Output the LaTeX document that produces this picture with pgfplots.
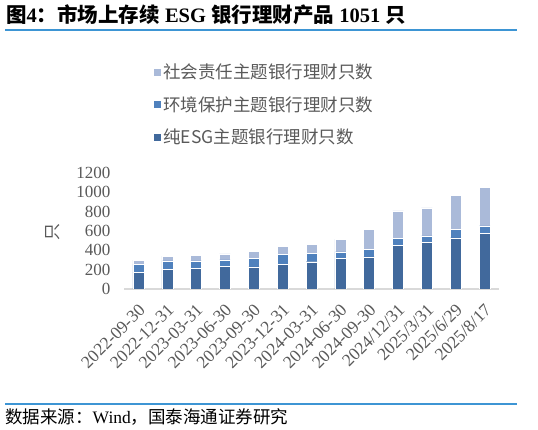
\documentclass[border=0pt]{standalone}
\usepackage{pgfplots}
\pgfplotsset{compat=1.18}
\usepackage{fontspec}
\setmainfont{Liberation Serif}
\newfontfamily\cjk{Noto Sans CJK SC}
\definecolor{c1}{HTML}{41699C}
\definecolor{c2}{HTML}{4F81BD}
\definecolor{c3}{HTML}{AABAD9}
\definecolor{tline}{HTML}{3D95D4}
\definecolor{tgray}{HTML}{595959}
\definecolor{lgray}{HTML}{D9D9D9}
\begin{document}
\begin{tikzpicture}[x=1pt,y=1pt]
\path[use as bounding box] (0,0) rectangle (538,430);
\node[anchor=west, inner sep=0pt, font=\fontsize{20.5}{23}\selectfont\bfseries] at (6,415) {{\cjk 图}4{\cjk ：市场上存续} ESG {\cjk 银行理财产品} 1051 {\cjk 只}};
\draw[tline, line width=1.5pt] (5,400) -- (517,400);
\draw[tline, line width=1.5pt] (5,26) -- (517,26);
\node[anchor=west, inner sep=0pt, font=\fontsize{17.5}{20}\selectfont] at (5,13) {{\cjk 数据来源：}Wind{\cjk ，国泰海通证券研究}};
\node[rotate=90, font=\cjk\fontsize{17}{20}\selectfont, text=tgray] at (53,198) {只};
\begin{axis}[
  at={(124pt,141pt)}, anchor=south west,
  scale only axis, width=375pt, height=116pt,
  ybar stacked, bar width=11pt,
  xmin=-0.5, xmax=12.5, ymin=0, ymax=1200,
  axis x line*=bottom, axis y line*=left,
  x axis line style={lgray, line width=1.2pt},
  y axis line style={draw=none},
  major tick length=0pt,
  /pgf/number format/1000 sep={},
  /pgf/number format/assume math mode=true,
  ytick={0,200,...,1200},
  yticklabel style={font=\fontsize{17}{20}\selectfont, text=tgray, xshift=-10pt},
  xtick={0,...,12},
  xticklabels={2022-09-30,2022-12-31,2023-03-31,2023-06-30,2023-09-30,2023-12-31,2024-03-31,2024-06-30,2024-09-30,2024/12/31,2025/3/31,2025/6/29,2025/8/17},
  xticklabel style={xshift=6pt, yshift=-16pt, rotate=45, anchor=east, font=\fontsize{17.5}{20}\selectfont, text=tgray},
  legend style={at={(0.069,1.974)}, anchor=north west, draw=none, fill=none,
    font=\cjk\fontsize{17.5}{20}\selectfont, text=tgray, row sep=12pt,
    legend cell align=left},
  reverse legend,
  legend image code/.code={\fill[#1] (0pt,-4pt) rectangle (8pt,4pt);},
]
\addplot[fill=c1, draw=white, line width=0.4pt] coordinates {(0,175) (1,203) (2,210) (3,234) (4,230) (5,258) (6,282) (7,316) (8,333) (9,450) (10,481) (11,529) (12,574)};
\addlegendentry{纯ESG主题银行理财只数}
\addplot[fill=c2, draw=white, line width=0.4pt] coordinates {(0,83) (1,89) (2,82) (3,68) (4,90) (5,103) (6,86) (7,69) (8,79) (9,76) (10,69) (11,90) (12,79)};
\addlegendentry{环境保护主题银行理财只数}
\addplot[fill=c3, draw=white, line width=0.4pt] coordinates {(0,41) (1,48) (2,55) (3,62) (4,72) (5,82) (6,92) (7,130) (8,203) (9,281) (10,288) (11,350) (12,398)};
\addlegendentry{社会责任主题银行理财只数}
\end{axis}
\end{tikzpicture}
\end{document}
